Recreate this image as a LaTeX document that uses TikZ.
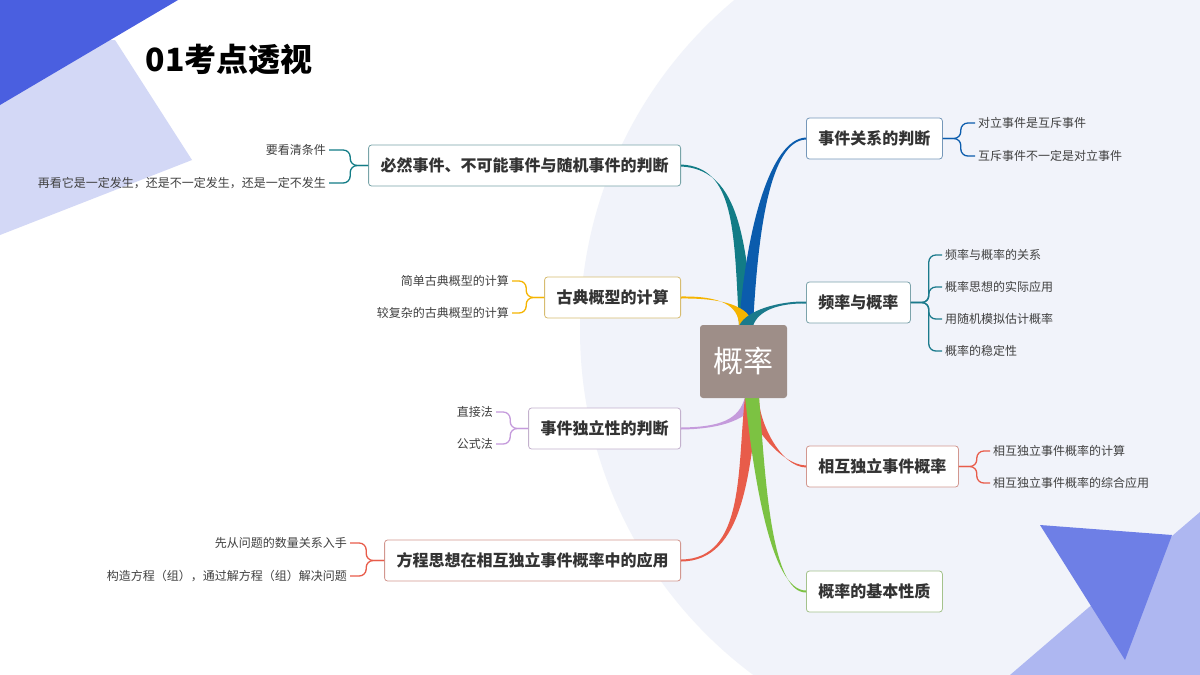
\documentclass[tikz,border=0pt]{standalone}
\usepackage{fontspec}
\setmainfont{Noto Sans CJK SC}
\usetikzlibrary{calc}
\definecolor{bgc}{HTML}{F1F3FA}
\definecolor{dblue}{HTML}{4A5FE0}
\definecolor{lav}{HTML}{D3D8F6}
\definecolor{c1}{HTML}{0B5CAD}
\definecolor{c2}{HTML}{1B7A8C}
\definecolor{c3}{HTML}{E85C4A}
\definecolor{c4}{HTML}{7CC242}
\definecolor{c5}{HTML}{127C86}
\definecolor{c6}{HTML}{F5B400}
\definecolor{c7}{HTML}{C59BDC}
\definecolor{ctr}{HTML}{9E8E88}
\newcommand\mybranch[5]{% color, start, c1, c2, end
  \fill[#1] ($(#2)+(-7,0)$) .. controls ($(#3)+(-6,0)$) and ($(#4)+(0,-1)$) .. ($(#5)+(0,-1)$)
     -- ($(#5)+(0,1)$) .. controls ($(#4)+(0,1)$) and ($(#3)+(6,0)$) .. ($(#2)+(7,0)$) -- cycle;}
\tikzset{
  box/.style={draw=#1!60!gray!70, rounded corners=3, fill=white, line width=0.8pt,
    minimum height=41, inner xsep=12, font=\fontsize{16}{16}\selectfont\bfseries, text=black!80},
  leaf/.style={font=\fontsize{12}{12}\selectfont, text=black!75, inner sep=3},
  brk/.style={draw=#1, line width=1.3pt, rounded corners=7},
}
\begin{document}
\begin{tikzpicture}[x=1pt,y=-1pt]
\useasboundingbox (0,0) rectangle (1200,675);
\fill[white] (0,0) rectangle (1200,675);
\begin{scope}
\clip (0,0) rectangle (1200,675);
\fill[bgc] (1010,330) circle (430);
\fill[lav] (0,40) -- (115,40) -- (192,160) -- (0,235) -- cycle;
\fill[dblue] (0,0) -- (178,0) -- (0,105) -- cycle;
\fill[dblue!45!white] (1010,675) -- (1200,512) -- (1200,675) -- cycle;
\fill[dblue!80!white] (1040,525) -- (1172,535) -- (1125,660) -- cycle;
\end{scope}
\node[anchor=west, font=\fontsize{32}{32}\selectfont\bfseries] (title) at (142,60) {01考点透视};

\coordinate (ct) at (746,326);
\coordinate (cb) at (752,397);
% right boxes
\node[box=c1, anchor=west] (r1) at (806,138.5) {事件关系的判断};
\node[box=c2, anchor=west] (r2) at (806,302.5) {频率与概率};
\node[box=c3, anchor=west] (r3) at (806,466.5) {相互独立事件概率};
\node[box=c4, anchor=west] (r4) at (806,591.5) {概率的基本性质};
% left boxes
\node[box=c5, anchor=east] (l1) at (681,165.5) {必然事件、不可能事件与随机事件的判断};
\node[box=c6, anchor=east] (l2) at (681,297.5) {古典概型的计算};
\node[box=c7, anchor=east] (l3) at (681,428.5) {事件独立性的判断};
\node[box=c3, anchor=east] (l4) at (681,560.5) {方程思想在相互独立事件概率中的应用};

% branches
\mybranch{c5}{ct}{740,230}{735,168}{l1.east}
\mybranch{c1}{ct}{752,230}{770,140}{r1.west}
\mybranch{c6}{ct}{745,305}{720,297}{l2.east}
\mybranch{c2}{ct}{752,310}{780,302}{r2.west}
\mybranch{c7}{cb}{745,420}{720,428}{l3.east}
\mybranch{c3}{cb}{752,420}{780,466}{r3.west}
\mybranch{c3}{cb}{743,470}{745,560}{l4.east}
\mybranch{c4}{cb}{759,470}{770,592}{r4.west}

\node[draw=none, fill=ctr, rounded corners=3, minimum width=87, minimum height=73,
  text=white, font=\fontsize{30}{30}\selectfont] (c) at (743.5,361.5) {概率};

% leaves right
\node[leaf, anchor=west] (r1a) at (975,123) {对立事件是互斥事件};
\node[leaf, anchor=west] (r1b) at (975,156) {互斥事件不一定是对立事件};
\node[leaf, anchor=west] (r2a) at (942,255) {频率与概率的关系};
\node[leaf, anchor=west] (r2b) at (942,287) {概率思想的实际应用};
\node[leaf, anchor=west] (r2c) at (942,319) {用随机模拟估计概率};
\node[leaf, anchor=west] (r2d) at (942,351) {概率的稳定性};
\node[leaf, anchor=west] (r3a) at (990,451) {相互独立事件概率的计算};
\node[leaf, anchor=west] (r3b) at (990,483) {相互独立事件概率的综合应用};
% leaves left
\node[leaf, anchor=east] (l1a) at (329,150) {要看清条件};
\node[leaf, anchor=east] (l1b) at (329,183) {再看它是一定发生，还是不一定发生，还是一定不发生};
\node[leaf, anchor=east] (l2a) at (512,281) {简单古典概型的计算};
\node[leaf, anchor=east] (l2b) at (512,313) {较复杂的古典概型的计算};
\node[leaf, anchor=east] (l3a) at (496,412) {直接法};
\node[leaf, anchor=east] (l3b) at (496,444) {公式法};
\node[leaf, anchor=east] (l4a) at (350,543) {先从问题的数量关系入手};
\node[leaf, anchor=east] (l4b) at (350,576) {构造方程（组），通过解方程（组）解决问题};

\foreach \b/\l in {r1/r1a,r1/r1b} \draw[brk=c1] (\b.east) -- ++(18,0) |- (\l.west);
\foreach \b/\l in {r2/r2a,r2/r2b,r2/r2c,r2/r2d} \draw[brk=c2] (\b.east) -- ++(18,0) |- (\l.west);
\foreach \b/\l in {r3/r3a,r3/r3b} \draw[brk=c3] (\b.east) -- ++(18,0) |- (\l.west);
\foreach \b/\l in {l1/l1a,l1/l1b} \draw[brk=c5] (\b.west) -- ++(-18,0) |- (\l.east);
\foreach \b/\l in {l2/l2a,l2/l2b} \draw[brk=c6] (\b.west) -- ++(-18,0) |- (\l.east);
\foreach \b/\l in {l3/l3a,l3/l3b} \draw[brk=c7] (\b.west) -- ++(-18,0) |- (\l.east);
\foreach \b/\l in {l4/l4a,l4/l4b} \draw[brk=c3] (\b.west) -- ++(-18,0) |- (\l.east);
\end{tikzpicture}
\end{document}
